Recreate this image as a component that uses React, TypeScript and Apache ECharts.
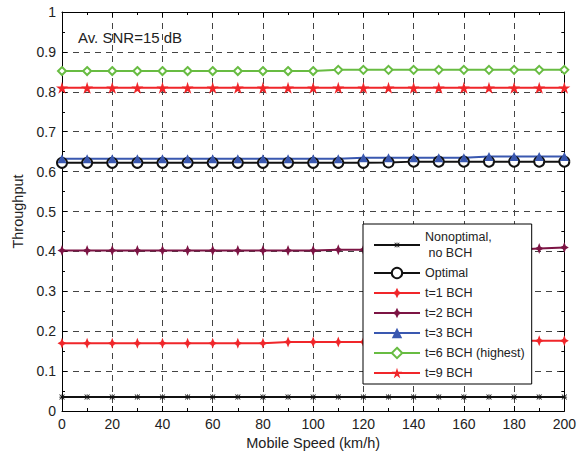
import React, { useEffect, useRef } from "react";
import * as echarts from "echarts";

const speeds = [0, 10, 20, 30, 40, 50, 60, 70, 80, 90, 100, 110, 120, 130, 140, 150, 160, 170, 180, 190, 200];
const nonOptimal = [0.035, 0.035, 0.035, 0.035, 0.035, 0.035, 0.035, 0.035, 0.035, 0.035, 0.035, 0.035, 0.035, 0.035, 0.035, 0.035, 0.035, 0.035, 0.035, 0.035, 0.035];
const optimal = [0.622, 0.622, 0.622, 0.622, 0.622, 0.622, 0.622, 0.622, 0.622, 0.622, 0.622, 0.622, 0.622, 0.623, 0.625, 0.625, 0.625, 0.625, 0.625, 0.625, 0.625];
const bch1 = [0.17, 0.17, 0.17, 0.17, 0.17, 0.17, 0.17, 0.17, 0.17, 0.173, 0.173, 0.173, 0.173, 0.173, 0.173, 0.173, 0.176, 0.176, 0.176, 0.176, 0.176];
const bch2 = [0.402, 0.402, 0.402, 0.402, 0.402, 0.402, 0.402, 0.402, 0.402, 0.402, 0.402, 0.404, 0.404, 0.404, 0.404, 0.404, 0.404, 0.404, 0.404, 0.407, 0.41];
const bch3 = [0.632, 0.632, 0.632, 0.632, 0.632, 0.632, 0.632, 0.632, 0.632, 0.632, 0.632, 0.632, 0.635, 0.635, 0.635, 0.635, 0.635, 0.638, 0.638, 0.638, 0.638];
const bch6 = [0.852, 0.852, 0.852, 0.852, 0.852, 0.852, 0.852, 0.852, 0.852, 0.852, 0.852, 0.855, 0.855, 0.855, 0.855, 0.855, 0.855, 0.855, 0.855, 0.855, 0.855];
const bch9 = [0.81, 0.81, 0.81, 0.81, 0.81, 0.81, 0.81, 0.81, 0.81, 0.81, 0.81, 0.81, 0.81, 0.81, 0.81, 0.81, 0.81, 0.81, 0.81, 0.81, 0.81];

const seriesNames = ["Nonoptimal,\n no BCH", "Optimal", "t=1 BCH", "t=2 BCH", "t=3 BCH", "t=6 BCH (highest)", "t=9 BCH"];
const annotation = "Av. SNR=15 dB";

// asterisk glyph occupies the middle half of a padded 20x20 box
const asterisk =
  "path://M-5,-5M15,15M4.3,0h1.4v4.3h4.3v1.4h-4.3v4.3h-1.4v-4.3h-4.3v-1.4h4.3zM1,0L5,4L9,0L10,1L6,5L10,9L9,10L5,6L1,10L0,9L4,5L0,1z";
const star4 = "path://M5,0L6.6,3.4L10,5L6.6,6.6L5,10L3.4,6.6L0,5L3.4,3.4Z";
const star5 =
  "path://M10,0L12.245,6.91L19.51,6.91L13.63,11.18L15.88,18.09L10,13.82L4.12,18.09L6.37,11.18L0.49,6.91L7.755,6.91Z";

const FONT = "'Liberation Sans', Arial, Helvetica, sans-serif";

export default function App() {
  const ref = useRef<HTMLDivElement>(null);
  useEffect(() => {
    if (!ref.current) return;
    const chart = echarts.init(ref.current, undefined, { renderer: "svg" });
    const pair = (arr: number[]) => speeds.map((s, i) => [s, arr[i]]);
    const mk = (
      name: string,
      arr: number[],
      color: string,
      symbol: string,
      size: number | number[],
      extra: any = {}
    ) => ({
      name,
      type: "line",
      data: pair(arr),
      symbol,
      symbolSize: size,
      showAllSymbol: true,
      lineStyle: { color, width: 2 },
      itemStyle: { color },
      z: 3,
      ...extra,
    });
    const axisCommon = {
      min: 0,
      axisLine: { show: true, onZero: false, lineStyle: { color: "#000", width: 1 } },
      axisTick: { show: true, inside: true, length: 5, lineStyle: { color: "#000" } },
      minorTick: { show: true, splitNumber: 2, length: 3, lineStyle: { color: "#000" } },
    };
    chart.setOption({
      animation: false,
      backgroundColor: "#fff",
      textStyle: { fontFamily: FONT },
      grid: { left: 62, right: 11, top: 12, bottom: 46, containLabel: false },
      xAxis: [
        {
          ...axisCommon,
          type: "value",
          max: 200,
          interval: 20,
          position: "bottom",
          name: "Mobile Speed (km/h)",
          nameLocation: "middle",
          nameGap: 21,
          nameTextStyle: { fontSize: 14.5, color: "#222", fontFamily: FONT },
          axisLabel: { fontSize: 14, color: "#222", margin: 6, fontFamily: FONT },
          splitLine: { show: true, lineStyle: { color: "#444", type: [6, 5], width: 1 } },
        },
        {
          ...axisCommon,
          type: "value",
          max: 200,
          interval: 20,
          position: "top",
          axisLabel: { show: false },
          splitLine: { show: false },
        },
      ],
      yAxis: [
        {
          ...axisCommon,
          type: "value",
          max: 1,
          interval: 0.1,
          position: "left",
          name: "Throughput",
          nameLocation: "middle",
          nameGap: 37,
          nameTextStyle: { fontSize: 14.5, color: "#222", fontFamily: FONT },
          axisLabel: { fontSize: 14, color: "#222", margin: 6, fontFamily: FONT },
          splitLine: { show: true, lineStyle: { color: "#444", type: [6, 5], width: 1 } },
        },
        {
          ...axisCommon,
          type: "value",
          max: 1,
          interval: 0.1,
          position: "right",
          axisLabel: { show: false },
          splitLine: { show: false },
        },
      ],
      legend: {
        orient: "vertical",
        left: 363,
        top: 224,
        padding: [5, 7, 3, 10],
        itemGap: 4,
        itemWidth: 46,
        itemHeight: 13,
        backgroundColor: "#fff",
        borderColor: "#000",
        borderWidth: 1,
        borderRadius: 0,
        textStyle: { fontSize: 12.5, color: "#222", lineHeight: 16, fontFamily: FONT },
        data: seriesNames,
      },
      graphic: [
        {
          type: "text",
          left: 78,
          top: 30,
          style: { text: annotation, fontSize: 15, fill: "#222", fontFamily: FONT },
          z: 10,
        },
      ],
      series: [
        mk(seriesNames[0], nonOptimal, "#111", asterisk, 11),
        mk(seriesNames[1], optimal, "#111", "emptyCircle", 10, {
          itemStyle: { color: "#111", borderWidth: 2 },
        }),
        mk(seriesNames[2], bch1, "#f0262a", star4, [9, 11]),
        mk(seriesNames[3], bch2, "#7c1444", star4, [9, 11]),
        mk(seriesNames[4], bch3, "#3a58b0", "triangle", 9),
        mk(seriesNames[5], bch6, "#68bc42", "emptyDiamond", 8, {
          itemStyle: { color: "#68bc42", borderWidth: 1.5 },
        }),
        mk(seriesNames[6], bch9, "#f0262a", star5, 12),
      ],
    });
    return () => chart.dispose();
  }, []);
  return <div ref={ref} style={{ width: 579, height: 457, position: "absolute", left: 0, top: 0 }} />;
}
